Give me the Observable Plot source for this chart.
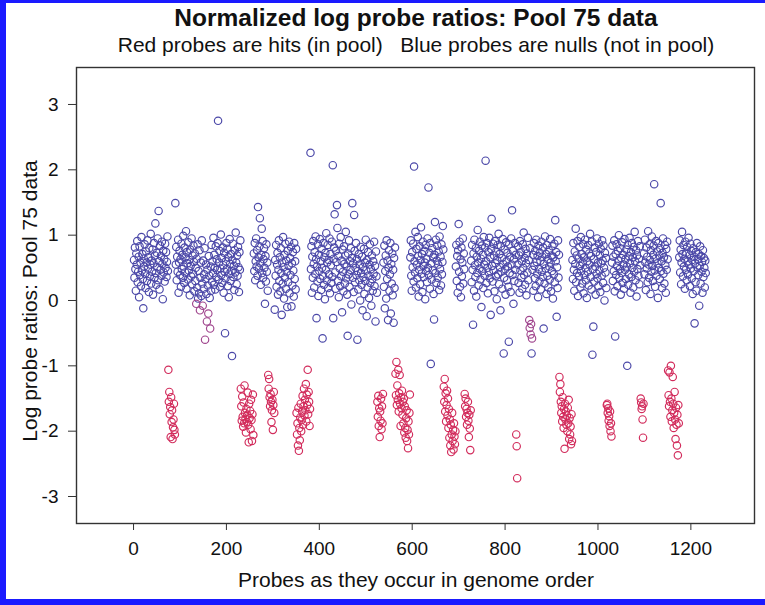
<!DOCTYPE html>
<html><head><meta charset="utf-8">
<script src="https://cdn.jsdelivr.net/npm/d3@7"></script>
<script src="https://cdn.jsdelivr.net/npm/@observablehq/plot@0.6"></script>
<style>
html,body{margin:0;padding:0;background:#fff;}
#wrap{position:relative;width:765px;height:605px;overflow:hidden;font-family:"Liberation Sans",Arial,Helvetica,sans-serif;color:#111;}
#chart{position:absolute;left:0;top:0;}
#border{position:absolute;left:0;top:0;width:765px;height:605px;box-sizing:border-box;border-left:6px solid #1a1aff;border-top:3px solid #1a1aff;border-bottom:6px solid #1a1aff;pointer-events:none;}
.t{position:absolute;left:66px;width:700px;text-align:center;white-space:nowrap;line-height:1;}
#title{top:6px;font-weight:bold;font-size:24.5px;}
#subtitle{top:34px;font-size:21px;}
#xlab{top:569px;font-size:21px;}
#ylab{position:absolute;left:29px;top:301px;transform:translate(-50%,-50%) rotate(-90deg);white-space:nowrap;font-size:21px;line-height:1;}
</style></head>
<body>
<div id="wrap">
  <div id="chart"></div>
  <div class="t" id="title">Normalized log probe ratios: Pool 75 data</div>
  <div class="t" id="subtitle">Red probes are hits (in pool)&nbsp;&nbsp;&nbsp;Blue probes are nulls (not in pool)</div>
  <div class="t" id="xlab">Probes as they occur in genome order</div>
  <div id="ylab">Log probe ratios: Pool 75 data</div>
  <div id="border"></div>
</div>
<script>
// ---- data: probe index runs (genome order) and log ratios ----
const xTicks = [0, 200, 400, 600, 800, 1000, 1200];
const yTicks = [-3, -2, -1, 0, 1, 2, 3];
const classes = ["null", "mixed", "hit"];
const classColors = ["#4b48a8", "#a0468e", "#d22c5c"];

const nullStarts = [1, 90, 259, 304, 381, 538, 596, 694, 727, 827, 945, 1030, 1099, 1175];
const nullValues = [
 [0.62,0.35,0.81,0.48,0.15,0.72,0.55,0.91,0.28,0.44,0.67,0.05,0.83,0.39,0.58,0.22,0.97,0.46,0.71,0.33,
  -0.12,0.64,0.52,0.86,0.41,0.19,0.75,0.58,0.30,0.92,0.49,0.66,0.13,0.80,0.37,0.55,1.02,0.26,0.61,0.44,
  0.78,0.09,0.57,0.88,0.35,0.69,1.18,0.42,0.24,0.73,0.51,0.95,0.31,1.37,0.60,0.17,0.84,0.47,0.68,0.38,
  0.90,0.56,0.02,0.76,0.43,0.63,0.29,0.87,0.50,0.74,0.36,0.59,0.98,0.45],
 [1.49,
  0.55,0.82,0.31,0.67,0.44,0.93,0.12,0.58,0.76,0.39,0.63,0.21,0.87,0.48,0.70,0.35,0.99,0.52,0.27,0.81,
  0.43,0.66,1.06,0.18,0.74,0.57,0.32,0.89,0.46,0.62,0.08,0.78,0.53,0.37,0.95,0.25,0.69,0.41,0.84,0.59,
  0.14,0.72,0.30,0.50,-0.05,0.64,0.20,0.86,0.03,0.45,0.11,0.77,-0.15,0.35,0.58,0.07,0.92,0.26,-0.08,0.61,
  0.18,0.40,0.80,-0.60,0.33,0.55,0.10,-0.32,0.47,0.23,-0.20,0.68,0.38,0.04,-0.43,0.52,0.15,0.85,0.29,0.60,
  0.42,0.96,0.24,0.70,0.50,0.17,0.83,0.36,0.63,0.47,0.88,2.75,0.32,0.58,0.76,0.21,0.49,1.01,0.39,0.65,
  0.27,0.81,0.54,0.12,0.73,0.44,-0.50,0.34,0.60,0.88,0.48,0.79,0.22,0.66,0.05,0.41,0.94,0.56,0.30,0.71,
  0.45,-0.85,0.62,0.87,0.36,0.53,0.16,0.77,0.43,1.04,0.58,0.25,0.69,0.38,0.82,0.51,0.13,0.74,0.47,0.92],
 [0.72,0.45,0.88,0.31,0.60,0.95,0.52,0.77,0.38,1.43,0.66,0.49,0.83,1.26,0.57,0.24,0.70,1.10,0.42,0.91,
  0.35,0.63,0.80,0.50,-0.05,0.68,0.29,0.86,0.44,0.58,0.15],
 [-0.14,0.62,0.38,0.85,0.21,0.55,0.73,0.09,0.47,0.92,0.30,0.66,0.14,0.80,0.42,-0.22,0.58,0.26,0.97,0.51,
  0.03,0.70,0.35,0.87,0.18,0.61,0.44,-0.10,0.76,0.28,0.53,0.90,0.11,0.65,0.39,0.82,-0.09,0.57,0.23,0.74,
  0.46,0.06,0.88,0.33,0.60,0.17,0.79],
 [2.26,0.48,0.83,0.12,0.67,0.35,0.91,0.56,0.20,0.74,0.41,0.98,0.63,-0.27,0.52,0.29,0.86,0.07,0.70,0.45,
  0.94,0.33,0.60,0.16,0.79,0.50,-0.58,0.38,0.88,0.24,0.66,0.02,0.73,0.47,1.03,0.31,0.58,0.85,0.19,0.62,
  0.40,0.95,0.11,0.71,0.54,0.27,0.90,0.36,2.07,-0.27,0.64,0.81,1.32,0.43,0.18,0.76,0.59,1.46,1.11,0.30,
  0.68,0.05,0.87,0.49,0.22,0.97,0.37,0.61,-0.18,0.78,0.44,0.14,0.83,0.56,0.26,0.69,1.05,0.34,0.52,0.09,
  -0.54,0.72,0.40,0.92,0.21,0.60,0.47,0.80,-0.06,0.65,1.49,0.35,0.57,0.13,1.31,0.76,0.28,0.50,0.88,0.39,
  0.63,-0.60,0.45,0.17,0.71,0.31,0.55,0.00,0.82,0.42,0.24,0.67,-0.15,0.51,0.36,0.79,0.10,0.58,0.30,0.93,
  0.46,-0.24,0.62,0.20,0.74,0.38,0.04,0.55,0.86,0.27,0.48,-0.08,0.69,0.33,0.15,0.60,0.41,0.90,0.22,0.53,
  -0.32,0.75,0.37,0.12],
 [0.58,0.21,0.84,-0.12,0.45,0.69,0.03,0.92,0.33,0.61,-0.30,0.50,0.77,0.15,0.40,0.88,-0.20,0.56,0.26,0.72,
  0.08,0.47,-0.34,0.65,0.19,0.81],
 [0.66,0.92,0.38,0.15,0.74,0.51,0.87,0.29,2.05,0.60,0.43,1.05,0.20,0.79,0.55,0.34,0.97,0.68,0.06,0.47,
  0.83,0.25,0.62,1.12,0.41,0.71,0.13,0.90,0.53,0.36,0.76,0.58,0.02,0.85,0.45,0.64,0.28,0.95,0.50,1.73,
  0.39,0.73,0.18,0.88,-0.97,0.57,0.32,0.80,0.46,0.66,0.10,-0.29,0.70,1.20,0.42,0.93,0.27,0.61,0.84,0.35,
  0.55,0.75,0.16,0.98,0.48,0.67,0.23,0.86,0.40,0.59,1.14,0.78],
 [0.52,0.85,0.30,0.68,0.12,0.77,1.17,0.44,0.90,0.21,0.63,0.05,0.81,0.37,0.58,0.95,0.26,0.72,0.48],
 [0.61,0.28,0.85,0.47,-0.37,0.72,0.15,0.93,0.54,0.36,0.80,0.06,0.67,0.42,1.08,0.58,0.23,0.76,0.49,0.90,
  0.32,0.64,-0.10,0.84,0.45,0.70,0.19,0.97,0.55,0.38,0.81,2.14,0.60,0.27,0.88,0.50,0.11,0.74,0.43,0.96,
  0.34,0.66,-0.22,0.79,1.25,0.53,0.29,0.87,0.46,0.69,0.14,0.91,0.57,0.37,0.75,0.02,0.62,0.85,0.40,1.02,
  0.25,0.71,0.51,-0.15,0.83,0.44,0.65,0.18,0.94,0.56,-0.81,0.35,0.78,0.48,0.09,0.89,0.60,0.31,0.73,0.52,
  0.21,-0.63,0.86,0.42,0.67,0.13,0.95,0.55,1.38,0.39,0.76,-0.05,0.63,0.30,0.88,0.47,0.70],
 [0.55,0.83,0.27,0.69,0.12,0.91,0.46,0.74,0.35,0.60,0.18,0.86,0.50,1.04,0.39,0.65,0.24,0.79,0.57,0.08,
  0.72,0.43,0.96,0.31,0.62,-0.30,-0.42,0.80,-0.52,-0.36,-0.81,-0.58,0.47,0.70,0.15,0.88,0.53,0.34,0.76,0.22,
  0.93,0.59,0.41,0.68,0.05,0.84,0.48,0.29,0.73,0.61,0.17,0.90,0.44,0.67,0.36,0.81,-0.43,0.56,0.26,0.98,
  0.49,0.71,0.10,0.85,0.38,0.63,0.20,0.77,0.52,0.32,0.94,0.58,0.14,0.69,0.45,0.83,0.03,0.66,0.40,0.87,
  0.28,1.23,0.60,0.74,-0.25,0.51,0.19,0.92,0.35,0.70],
 [0.62,0.33,0.88,0.47,0.15,0.75,0.56,1.10,0.28,0.69,0.42,0.91,0.07,0.64,0.37,0.82,0.53,0.20,0.97,0.45,
  0.71,0.26,0.58,0.86,0.11,0.66,0.39,0.93,0.50,0.31,0.78,0.04,0.60,0.44,0.85,0.23,0.72,0.55,1.02,0.36,
  0.68,0.17,0.90,-0.83,0.48,-0.40,0.63,0.29,0.81,0.52,0.09,0.74,0.41,0.95,0.34,0.58,0.22,0.87,0.46,0.70,
  0.13,0.79,0.57,0.38,0.92,0.61,0.27,0.84,0.50,0.00,0.73,0.43,0.65,0.19],
 [0.58,0.84,0.30,0.67,0.45,0.92,0.14,-0.55,0.71,0.39,0.86,0.53,0.22,0.76,0.61,1.00,0.35,0.48,0.80,0.09,
  0.65,0.42,0.89,0.27,0.70,0.55,0.18,0.94,0.47,0.63,0.33,0.78,0.52,-1.00,0.85,0.24,0.68,0.40,0.96,0.57,
  0.12,0.74,0.36,0.88,0.50,0.66,0.20,0.82,0.44,1.05,0.60,0.31,0.77,0.06,0.69,0.48,0.91,0.38,0.64,0.25,
  0.83,0.54],
 [0.72,0.40,0.93,0.58,0.16,0.81,0.49,0.67,0.28,1.06,0.55,0.35,0.86,0.62,0.10,0.77,0.44,0.98,0.53,0.30,
  0.70,0.84,1.78,0.46,0.21,0.64,0.91,0.38,0.75,0.57,0.04,0.88,0.50,0.69,0.33,0.80,1.49,0.45,0.60,0.19,
  0.73,0.95,0.41,0.66,0.26,0.85,0.54,0.12,0.79,0.47,0.90,0.63],
 [0.66,0.92,0.43,0.78,0.25,0.58,1.05,0.71,0.37,0.85,0.52,0.64,0.18,0.90,0.47,0.73,0.31,0.82,0.60,0.40,
  0.96,0.55,0.69,0.22,0.87,0.49,0.76,0.34,0.62,0.10,0.80,0.45,0.67,-0.35,0.57,0.28,0.74,0.15,0.88,0.51,
  0.63,0.39,0.71,-0.08,0.53,0.83,0.26,0.68,0.44,0.59,0.12,0.77,0.36,0.65,0.50,0.20,0.61,0.42]
];

const hitStarts = [75, 231, 290, 351, 525, 564, 668, 713, 824, 917, 1019, 1092, 1151];
const hitValues = [
 [-1.06,-1.55,-1.40,-1.74,-1.63,-2.09,-1.48,-1.86,-1.68,-2.12,-1.94,-1.82,-1.58,-1.98,-2.05],
 [-1.35,-1.62,-1.84,-1.47,-1.78,-1.93,-1.56,-1.88,-1.30,-1.72,-1.81,-2.02,-1.66,-1.86,-1.75,-1.41,-1.90,-2.17,-1.58,-1.80,
  -1.69,-1.97,-1.52,-1.83,-2.15,-1.74,-1.44,-2.06],
 [-1.14,-1.35,-1.20,-1.48,-1.62,-1.43,-1.55,-1.86,-1.68,-1.52,-1.98,-1.60,-1.40,-1.72],
 [-1.72,-2.05,-1.88,-2.22,-1.64,-2.30,-1.95,-2.14,-1.79,-1.58,-2.00,-1.83,-1.70,-1.46,-1.90,-1.62,-1.35,-1.76,-1.52,-1.68,
  -1.28,-1.85,-1.44,-1.60,-1.06,-1.74,-1.40,-1.55,-1.92,-1.66],
 [-1.55,-1.78,-1.46,-1.92,-1.65,-2.09,-1.70,-1.84,-1.50,-1.97,-1.62,-1.88,-1.43],
 [-1.12,-1.45,-0.94,-1.60,-1.30,-1.52,-1.06,-1.70,-1.42,-1.14,-1.58,-1.92,-1.48,-1.65,-1.38,-1.75,-1.55,-1.88,-1.50,-2.02,
  -1.62,-1.95,-2.10,-1.80,-1.68,-2.15,-1.98,-2.26,-1.85,-2.05,-1.72,-1.44],
 [-1.32,-1.55,-1.20,-1.70,-1.42,-1.85,-1.60,-1.38,-1.76,-1.50,-1.95,-1.66,-2.10,-1.82,-2.22,-1.90,-2.32,-2.05,-1.72,-2.15,
  -1.98,-2.28,-1.88,-2.08,-2.20,-2.00],
 [-1.43,-1.62,-1.50,-1.78,-1.66,-1.90,-1.72,-1.55,-1.84,-2.09,-1.75,-1.96,-2.29,-1.68],
 [-2.05,-2.23,-2.72],
 [-1.17,-1.40,-1.28,-1.55,-1.72,-1.62,-1.85,-1.48,-1.78,-1.95,-1.66,-2.27,-1.58,-1.82,-1.70,-1.90,-1.76,-2.00,-1.64,-1.88,
  -1.52,-2.12,-1.80,-2.05,-1.93,-2.20,-1.74,-2.15],
 [-1.60,-1.58,-1.72,-1.65,-1.84,-1.77,-1.92,-1.70,-2.00,-1.88,-2.08],
 [-1.50,-1.56,-1.66,-1.62,-1.82,-2.10,-1.58],
 [-1.07,-1.45,-1.62,-1.10,-1.55,-1.78,-1.00,-1.50,-1.85,-1.68,-1.17,-1.58,-1.95,-1.72,-1.40,-1.82,-2.12,-1.64,-1.90,-2.22,
  -1.75,-2.37,-1.60,-1.88]
];

// null probes drawn in an intermediate (purplish) tint
const mixedProbes = [135, 143, 149, 154, 158, 161, 165, 852, 853, 855, 856, 858];

// ---- build table ----
const probes = [];
nullStarts.forEach((s, k) => nullValues[k].forEach((v, j) => {
  const idx = s + j;
  probes.push({index: idx, ratio: v, cls: mixedProbes.includes(idx) ? "mixed" : "null"});
}));
hitStarts.forEach((s, k) => hitValues[k].forEach((v, j) => {
  probes.push({index: s + j, ratio: v, cls: "hit"});
}));
const order = {null: 0, mixed: 1, hit: 2};
probes.sort((a, b) => order[a.cls] - order[b.cls]);

const fmt = d => (d < 0 ? "-" + Math.abs(d) : String(d));

const chart = Plot.plot({
  width: 765, height: 605,
  marginLeft: 76, marginRight: 11, marginTop: 67, marginBottom: 82,
  x: {domain: [-122.8, 1337]},
  y: {domain: [-3.413, 3.566]},
  color: {domain: classes, range: classColors},
  style: {fontFamily: "'Liberation Sans', Arial, sans-serif", fontSize: "19px", color: "#111", background: "transparent"},
  marks: [
    Plot.dot(probes, {x: "index", y: "ratio", stroke: "cls", r: 3.7, strokeWidth: 1.15, fill: "none"}),
    Plot.frame({stroke: "#333", strokeWidth: 1.4}),
    Plot.axisX({ticks: xTicks, tickSize: 7, tickPadding: 11, label: null, tickFormat: fmt, stroke: "#333"}),
    Plot.axisY({ticks: yTicks, tickSize: 8, tickPadding: 10, label: null, tickFormat: fmt, stroke: "#333"})
  ]
});
document.getElementById("chart").appendChild(chart);
</script>
</body></html>
